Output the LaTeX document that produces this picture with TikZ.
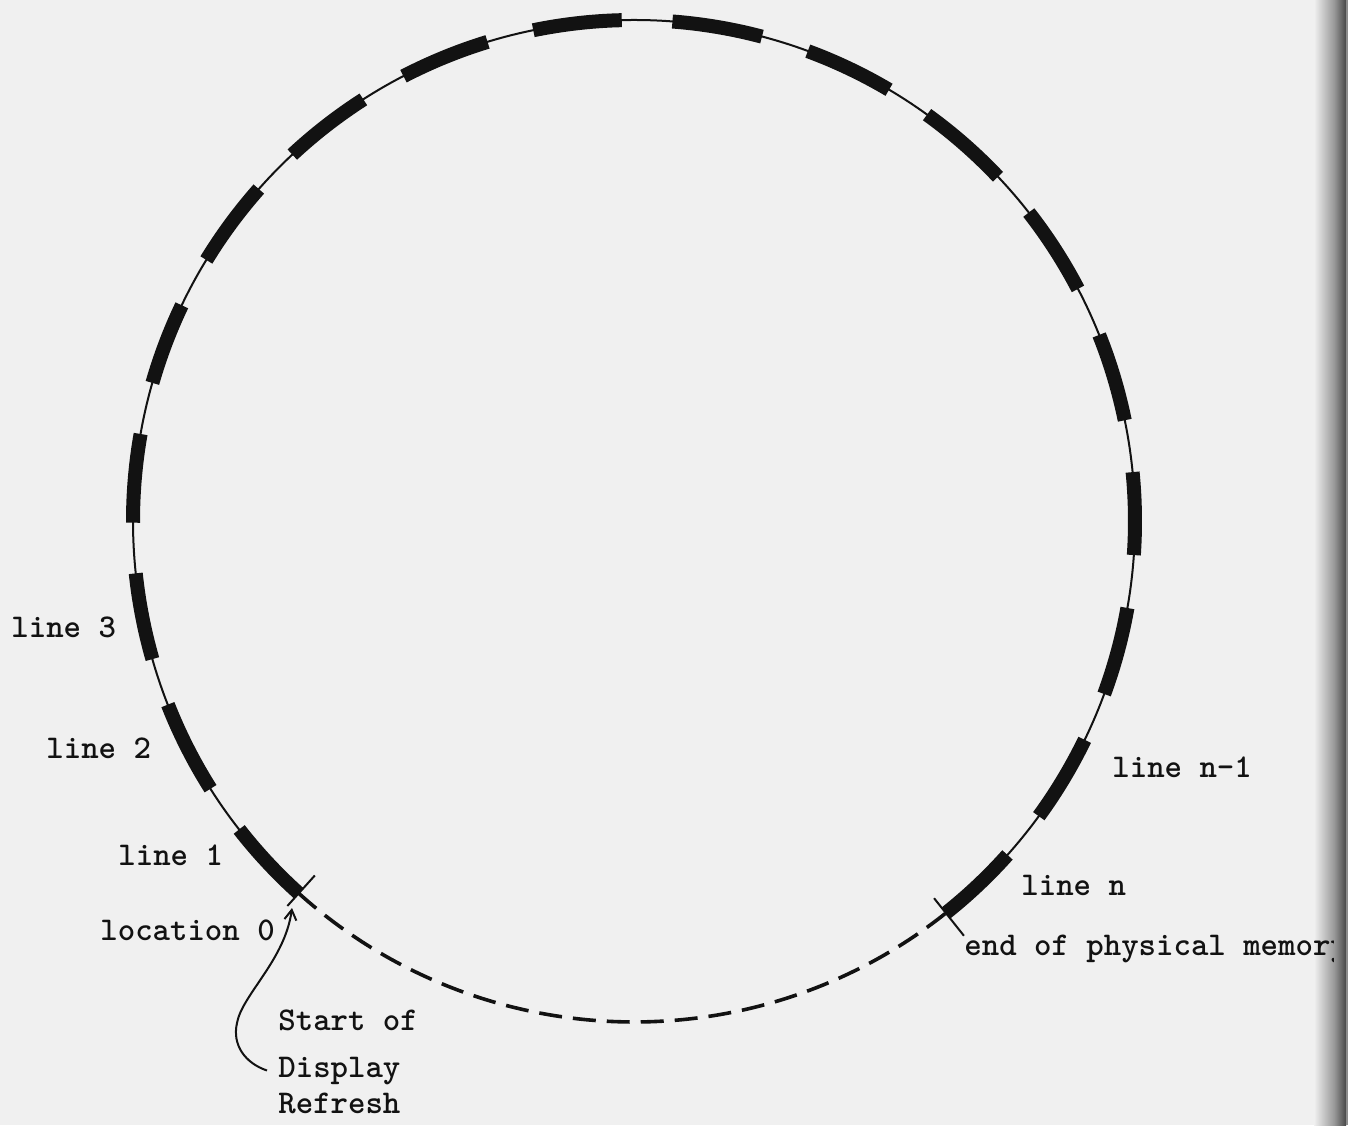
\documentclass[tikz,border=0pt]{standalone}
\usetikzlibrary{arrows.meta,calc}
\definecolor{bgcol}{RGB}{240,240,240}
\definecolor{ink}{RGB}{18,18,18}
\begin{document}
\begin{tikzpicture}[x=0.5pt,y=0.5pt,
  ring/.style={draw=ink,line width=1pt},
  gapline/.style={draw=ink,line width=1.8pt,dash pattern=on 11.5pt off 5.5pt},
  seg/.style={draw=ink,line width=7pt,line cap=butt},
  tick/.style={draw=ink,line width=1pt},
  lbl/.style={inner sep=0pt,anchor=base west,text=ink,font=\fontsize{16.6}{20}\selectfont\ttfamily\bfseries},
  pointer/.style={draw=ink,line width=1pt,-{Straight Barb[length=5pt,width=6pt]}}]
\fill[bgcol] (0,0) rectangle (1348,1125);
\useasboundingbox (0,0) rectangle (1348,1125);
% scanned page edge (light part)
\shade[left color=bgcol,right color=black!40] (1314,0) rectangle (1334,1125);
\coordinate (C) at (634,604);
% circle: used part (thin solid) and unused part (dashed)
\draw[ring] (C) ++(228:501) arc[start angle=228,end angle=-51.5,radius=501];
\draw[gapline] (C) ++(228:501) arc[start angle=228,end angle=308.5,radius=501];
% display lines
\foreach \a/\b in {228/218, 212.3/201.5, 196/186, 180.2/170, 164/154.5, 148.6/138.5,
  133/122.7, 117.4/107, 101.6/91.4, 85.6/75.2, 69.7/59.4, 54.2/43.4, 38/27.6,
  21.8/11.6, 5.6/-3.9, -10/-20.2, -25.9/-36.1, -41.8/-51.5}
  \draw[seg] (C) ++(\a:501) arc[start angle=\a,end angle=\b,radius=501];
% ticks
\coordinate (loc0) at ($(C)+(228:501)$);
\coordinate (endmem) at ($(C)+(308.5:501)$);
\draw[tick] ($(C)+(228:477)$) -- ($(C)+(228:518)$);
\draw[tick] ($(C)+(308.5:482)$) -- ($(C)+(308.5:530)$);
% labels
\node[lbl] (l3) at (11,487) {line 3};
\node[lbl] (l2) at (46,367) {line 2};
\node[lbl] (l1) at (118,260) {line 1};
\node[lbl] (loc) at (100,185) {location 0};
\node[lbl] (s1) at (278,95) {Start of};
\node[lbl] (s2) at (278,48) {Display};
\node[lbl] (s3) at (278,12) {Refresh};
\node[lbl] (ln1) at (1112,348) {line n-1};
\node[lbl] (ln) at (1021,230) {line n};
\node[lbl] (em) at (964,170) {end of physical memory};
% pointer to location 0
\coordinate (tip) at (292,217);
\draw[pointer] ($(s2.west)+(-11,0)$) .. controls (245,62) and (232,80) .. (237,102)
  .. controls (242,130) and (285,165) .. (tip);
% scanned page edge (dark part, over the cut-off text)
\shade[left color=black!40,right color=black!72] (1334,0) rectangle (1346,1125);
\fill[black!45] (1346,0) rectangle (1348,1125);
\end{tikzpicture}
\end{document}
